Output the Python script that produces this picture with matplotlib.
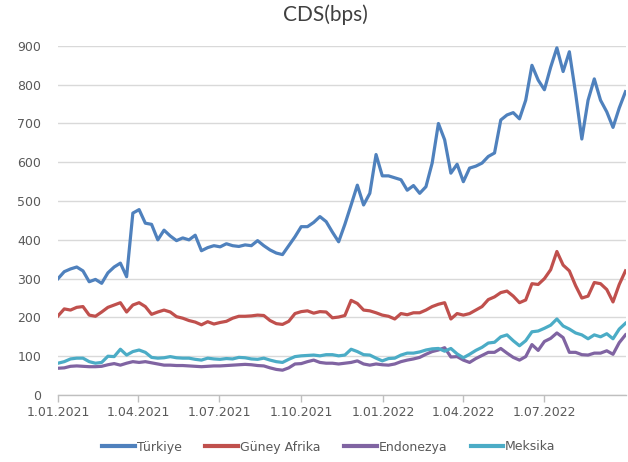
import numpy as np
import pandas as pd
import matplotlib
matplotlib.use("Agg")
import matplotlib.pyplot as plt
import matplotlib.dates as mdates

# ── Data (weekly readings, bps) ───────────────────────────────────────────────
dates = pd.date_range("2021-01-01", periods=92, freq="7D")

turkiye = [
    300, 318, 325, 330, 320, 292, 298, 288, 315, 330, 340, 305, 469, 478, 443, 440,
    400, 425, 410, 398, 405, 400, 412, 372, 380, 385, 382, 390, 385, 383, 387, 385,
    398, 385, 374, 366, 362, 385, 408, 434, 434, 445, 460, 447, 420, 395, 440, 490,
    541, 490, 520, 620, 565, 565, 560, 555, 528, 540, 520, 537, 598, 700, 658, 572,
    595, 550, 585, 590, 598, 615, 624, 709, 722, 728, 712, 760, 850, 812, 787, 845,
    895, 834, 885, 778, 660, 760, 815, 760, 730, 690, 740, 782,
]
guney_afrika = [
    204, 222, 219, 226, 228, 206, 203, 214, 226, 232, 238, 214, 232, 238, 228, 208,
    214, 219, 214, 202, 198, 192, 188, 181, 189, 183, 187, 190, 198, 203, 203, 204,
    206, 205, 192, 184, 182, 190, 210, 215, 217, 211, 215, 214, 199, 201, 205, 244,
    236, 219, 217, 212, 206, 203, 196, 210, 207, 212, 212, 219, 228, 234, 238, 196,
    210, 206, 210, 219, 228, 246, 253, 264, 268, 255, 238, 245, 287, 285, 300, 323,
    370, 335, 320, 282, 250, 255, 290, 287, 272, 240, 285, 320,
]
endonezya = [
    69, 70, 74, 75, 74, 73, 73, 74, 78, 81, 77, 82, 86, 84, 86, 83,
    80, 77, 77, 76, 76, 75, 74, 73, 74, 75, 75, 76, 77, 78, 79, 78,
    76, 75, 70, 66, 64, 70, 80, 81, 86, 90, 84, 82, 82, 80, 82, 84,
    88, 80, 77, 80, 78, 77, 80, 86, 90, 93, 97, 105, 112, 116, 122, 98,
    99, 90, 84, 94, 102, 110, 110, 120, 108, 97, 90, 99, 130, 115, 138, 146,
    160, 148, 110, 110, 104, 103, 108, 108, 114, 105, 135, 155,
]
meksika = [
    82, 86, 93, 95, 95, 86, 82, 84, 100, 99, 118, 103, 112, 116, 110, 97,
    95, 96, 99, 96, 95, 95, 92, 90, 95, 93, 92, 94, 93, 97, 96, 93,
    92, 95, 90, 86, 84, 92, 99, 101, 102, 103, 101, 104, 104, 101, 103, 118,
    112, 104, 103, 95, 88, 94, 95, 103, 108, 108, 111, 116, 119, 120, 113, 120,
    106, 96, 105, 115, 123, 134, 136, 150, 155, 140, 127, 140, 163, 165, 172, 180,
    196, 178, 170, 160, 155, 145, 155, 150, 158, 145, 170, 185,
]

series_names = ["Türkiye", "Güney Afrika", "Endonezya", "Meksika"]
series_values = [turkiye, guney_afrika, endonezya, meksika]
series_colors = ["#4F81BD", "#C0504D", "#8064A2", "#4BACC6"]

tick_dates = pd.to_datetime([
    "2021-01-01", "2021-04-01", "2021-07-01", "2021-10-01",
    "2022-01-01", "2022-04-01", "2022-07-01",
])

# ── Figure ────────────────────────────────────────────────────────────────────
text_color = "#595959"
grid_color = "#D9D9D9"

fig = plt.figure(figsize=(6.28, 4.62), dpi=100)
ax = fig.add_axes([0.0924, 0.145, 0.905, 0.7556])

for name, vals, col in zip(series_names, series_values, series_colors):
    ax.plot(dates, vals, color=col, linewidth=2.3, label=name,
            solid_joinstyle="round")

ax.set_ylim(0, 900)
ax.set_yticks(np.arange(0, 901, 100))
ax.set_xlim(pd.Timestamp("2021-01-01"), pd.Timestamp("2022-10-01"))
ax.set_xticks(tick_dates)
ax.xaxis.set_major_formatter(
    plt.FuncFormatter(lambda v, _: (lambda d: f"{d.day}.{d.month:02d}.{d.year}")(mdates.num2date(v)))
)

ax.grid(axis="y", color=grid_color, linewidth=1.0)
ax.set_axisbelow(True)
for side in ["top", "right", "left"]:
    ax.spines[side].set_visible(False)
ax.spines["bottom"].set_color("#BFBFBF")
ax.spines["bottom"].set_linewidth(1.0)

ax.tick_params(axis="y", length=0, pad=12, labelsize=9, labelcolor=text_color)
ax.tick_params(axis="x", length=5, width=1.0, color="#BFBFBF", pad=3,
               labelsize=9, labelcolor=text_color)

fig.text(325 / 628, 1 - 15 / 462, "CDS(bps)", ha="center", va="center",
         fontsize=15, color="#404040", family=["Lato", "DejaVu Sans"])

leg = fig.legend(loc="center", bbox_to_anchor=(329 / 628, 1 - 447 / 462), ncol=4,
                 frameon=False, fontsize=9, handlelength=2.6, handletextpad=0.15,
                 columnspacing=1.9)
for t in leg.get_texts():
    t.set_color(text_color)
for h in leg.legend_handles:
    h.set_linewidth(3)

fig.savefig("out.png", dpi=100)
